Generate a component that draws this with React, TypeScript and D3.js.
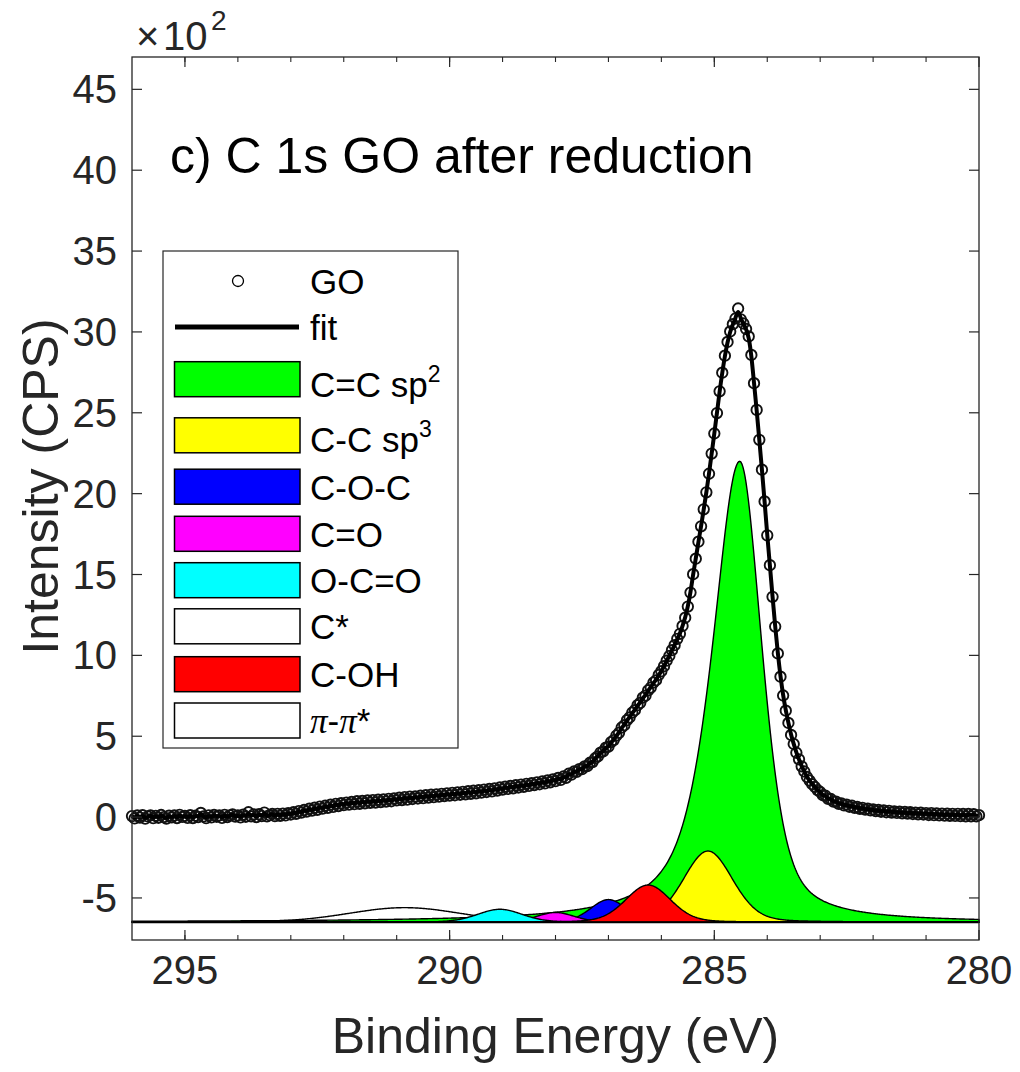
import React from "react";
import * as d3 from "d3";

// ---------- data (intensity in units of 10^2 CPS) ----------
const energyStart = 296; // eV, first data point
const energyStep = 0.05; // eV, spacing of the measured points (descending)
const goValues = [
  0.06, -0.08, 0.1, -0.03, 0.12, -0.1, 0.04, 0.11, -0.07, 0.08, -0.04, 0.13, 0.0, -0.09, 0.09, -0.02, 0.1, -0.06, 0.14, 0.01,
  0.07, -0.05, 0.12, -0.06, 0.09, 0.0, 0.26, 0.04, -0.07, 0.11, -0.02, 0.13, 0.02, 0.1, -0.05, 0.14, 0.0, 0.11, 0.16, 0.03,
  0.1, -0.02, 0.15, 0.02, 0.3, 0.05, 0.17, 0.0, 0.18, 0.06, 0.28, 0.04, 0.12, 0.19, 0.06, 0.2, 0.08, 0.22, 0.1, 0.24,
  0.16, 0.3, 0.2, 0.37, 0.28, 0.44, 0.34, 0.52, 0.4, 0.58, 0.45, 0.65, 0.52, 0.7, 0.57, 0.77, 0.63, 0.82, 0.68, 0.86,
  0.74, 0.9, 0.77, 0.94, 0.8, 0.98, 0.82, 1.0, 0.85, 1.03, 0.88, 1.05, 0.9, 1.08, 0.93, 1.1, 0.96, 1.13, 0.98, 1.15,
  1.03, 1.2, 1.05, 1.24, 1.08, 1.27, 1.12, 1.28, 1.15, 1.32, 1.17, 1.35, 1.2, 1.38, 1.23, 1.41, 1.26, 1.44, 1.3, 1.47,
  1.33, 1.5, 1.35, 1.53, 1.38, 1.56, 1.41, 1.6, 1.44, 1.63, 1.47, 1.66, 1.51, 1.7, 1.55, 1.74, 1.59, 1.78, 1.64, 1.83,
  1.7, 1.88, 1.74, 1.93, 1.78, 1.97, 1.83, 2.01, 1.87, 2.06, 1.93, 2.1, 1.98, 2.15, 2.03, 2.2, 2.08, 2.27, 2.15, 2.33,
  2.22, 2.42, 2.3, 2.51, 2.43, 2.68, 2.62, 2.82, 2.8, 2.97, 2.96, 3.14, 3.15, 3.36, 3.4, 3.64, 3.75, 3.99, 4.06, 4.29,
  4.35, 4.64, 4.76, 5.04, 5.21, 5.54, 5.68, 5.99, 6.16, 6.46, 6.61, 6.92, 7.06, 7.39, 7.51, 7.84, 8.01, 8.32, 8.46, 8.79,
  9.02, 9.33, 9.67, 9.96, 10.32, 10.63, 11.02, 11.33, 11.82, 12.33, 13.02, 13.88, 15.02, 15.98, 17.03, 17.98, 19.03, 20.08, 21.23, 22.48,
  23.72, 24.98, 26.33, 27.48, 28.53, 29.38, 30.03, 30.48, 30.83, 31.45, 30.78, 30.52, 30.18, 29.72, 28.58, 26.83, 25.18, 23.33, 21.48, 19.52,
  17.42, 15.58, 13.62, 11.78, 10.12, 8.68, 7.52, 6.58, 5.82, 5.08, 4.52, 3.98, 3.57, 3.14, 2.82, 2.48, 2.26, 2.03, 1.86, 1.67,
  1.55, 1.35, 1.32, 1.13, 1.12, 0.96, 0.96, 0.82, 0.85, 0.72, 0.77, 0.64, 0.7, 0.57, 0.63, 0.51, 0.57, 0.46, 0.52, 0.41,
  0.47, 0.37, 0.44, 0.33, 0.42, 0.3, 0.39, 0.28, 0.35, 0.26, 0.33, 0.23, 0.32, 0.21, 0.3, 0.19, 0.28, 0.17, 0.27, 0.16,
  0.25, 0.13, 0.25, 0.12, 0.23, 0.1, 0.22, 0.09, 0.21, 0.08, 0.2, 0.07, 0.2, 0.06, 0.19, 0.05, 0.19, 0.05, 0.18, 0.04,
  0.12,
];

// fitted components (drawn offset on a common baseline)
const componentBaseline = -6.5;
const compNames = ["C=C sp2", "C-C sp3", "C-O-C", "C=O", "O-C=O", "C*", "C-OH", "π-π*"];
const compColors = ["#00ff00", "#ffff00", "#0000ff", "#ff00ff", "#00ffff", "#ffffff", "#ff0000", "#ffffff"];
const compCenters = [284.52, 285.12, 287.0, 288.0, 289.05, 289.6, 286.25, 290.85];
const compHeights = [28.5, 4.4, 1.4, 0.6, 0.8, 0.25, 2.3, 0.9];
const compHwhmHigh = [0.62, 0.55, 0.4, 0.42, 0.5, 0.45, 0.5, 1.25]; // high-BE side
const compHwhmLow = [0.5, 0.55, 0.4, 0.42, 0.5, 0.45, 0.5, 1.25]; // low-BE side
const compLorHigh = [0.7, 0.2, 0.2, 0.2, 0.2, 0.2, 0.2, 0.1];
const compLorLow = [0.5, 0.2, 0.2, 0.2, 0.2, 0.2, 0.2, 0.1];
const drawOrder = [7, 5, 0, 1, 2, 3, 4, 6];

const xDomain = [296, 280];
const yDomain = [-7.6, 47];
const xMajorTicks = [295, 290, 285, 280];
const xMinorTicks = [295, 294, 293, 292, 291, 290, 289, 288, 287, 286, 285, 284, 283, 282, 281];
const yTicks = [-5, 0, 5, 10, 15, 20, 25, 30, 35, 40, 45];

const FONT = "'Liberation Sans', Arial, Helvetica, sans-serif";
const AX = "#262626";

function peak(i: number, e: number) {
  const d = e - compCenters[i];
  const w = d >= 0 ? compHwhmHigh[i] : compHwhmLow[i];
  const m = d >= 0 ? compLorHigh[i] : compLorLow[i];
  const u = (d / w) * (d / w);
  return compHeights[i] * (m / (1 + u) + (1 - m) * Math.exp(-Math.LN2 * u));
}

export default function App() {
  const W = 1020,
    H = 1072;
  const L = 132,
    R = 979,
    T = 57,
    B = 940;
  const x = d3.scaleLinear().domain(xDomain).range([L, R]);
  const y = d3.scaleLinear().domain(yDomain).range([B, T]);

  const goPoints = goValues.map((v, i) => ({ e: energyStart - i * energyStep, v }));
  const grid = d3.range(296, 279.999, -0.02);

  const area = (i: number) =>
    d3
      .area<number>()
      .x((e) => x(e))
      .y0(y(componentBaseline))
      .y1((e) => y(componentBaseline + peak(i, e)))(grid) || "";

  const fitPath =
    d3
      .line<{ e: number; v: number }>()
      .x((d) => x(d.e))
      .y((d) => y(d.v))
      .curve(d3.curveBasis)(goPoints) || "";

  const legendPatchY = [379.2, 435.3, 486.7, 533.8, 580.2, 626.3, 674.2, 720.5];
  const legendTextY = [397, 452, 500, 547, 593, 639, 687, 733];

  const serif = "'Liberation Serif', 'Times New Roman', serif";
  const renderLabel = (i: number) => {
    const n = compNames[i];
    if (n === "C=C sp2")
      return (
        <>
          C=C sp
          <tspan dy={-15} fontSize={23}>
            2
          </tspan>
        </>
      );
    if (n === "C-C sp3")
      return (
        <>
          C-C sp
          <tspan dy={-15} fontSize={23}>
            3
          </tspan>
        </>
      );
    if (n === "π-π*")
      return (
        <>
          <tspan fontFamily={serif} fontStyle="italic">
            π
          </tspan>
          -
          <tspan fontFamily={serif} fontStyle="italic">
            π
          </tspan>
          *
        </>
      );
    return n;
  };

  return (
    <svg
      width={W}
      height={H}
      viewBox={`0 0 ${W} ${H}`}
      style={{ position: "absolute", left: 0, top: 0, background: "#fff" }}
      fontFamily={FONT}
    >
      <rect x={0} y={0} width={W} height={H} fill="#fff" />

      {/* components */}
      {drawOrder.map((i) => (
        <path key={i} d={area(i)} fill={compColors[i]} stroke="#000" strokeWidth={1.4} strokeLinejoin="round" />
      ))}
      <line x1={L} x2={R} y1={y(componentBaseline)} y2={y(componentBaseline)} stroke="#000" strokeWidth={2} />

      {/* data */}
      {goPoints.map((d, i) => (
        <circle key={i} cx={x(d.e)} cy={y(d.v)} r={5.2} fill="none" stroke="#111" strokeWidth={1.9} />
      ))}
      <path d={fitPath} fill="none" stroke="#000" strokeWidth={4} strokeLinejoin="round" />

      {/* axes box */}
      <rect x={L} y={T} width={R - L} height={B - T} fill="none" stroke={AX} strokeWidth={1.3} />
      {xMajorTicks.map((t) => (
        <g key={"xm" + t}>
          <line x1={x(t)} x2={x(t)} y1={B} y2={B - 10} stroke={AX} strokeWidth={1.2} />
          <line x1={x(t)} x2={x(t)} y1={T} y2={T + 10} stroke={AX} strokeWidth={1.2} />
          <text x={x(t)} y={984} textAnchor="middle" fontSize={40} fill={AX}>
            {t}
          </text>
        </g>
      ))}
      {xMinorTicks.map((t) => (
        <g key={"xn" + t}>
          <line x1={x(t)} x2={x(t)} y1={B} y2={B - 5} stroke={AX} strokeWidth={1.1} />
          <line x1={x(t)} x2={x(t)} y1={T} y2={T + 5} stroke={AX} strokeWidth={1.1} />
        </g>
      ))}
      {yTicks.map((t) => (
        <g key={"y" + t}>
          <line x1={L} x2={L + 10} y1={y(t)} y2={y(t)} stroke={AX} strokeWidth={1.2} />
          <line x1={R} x2={R - 10} y1={y(t)} y2={y(t)} stroke={AX} strokeWidth={1.2} />
          <text x={117} y={y(t) + 14} textAnchor="end" fontSize={40} fill={AX}>
            {t}
          </text>
        </g>
      ))}

      {/* exponent */}
      <text x={136} y={50} fontSize={40} fill={AX}>
        ×
      </text>
      <text x={163} y={50} fontSize={40} fill={AX}>
        10
      </text>
      <text x={211} y={30} fontSize={28} fill={AX}>
        2
      </text>

      {/* axis labels */}
      <text x={(L + R) / 2} y={1053} textAnchor="middle" fontSize={50} fill={AX}>
        Binding Energy (eV)
      </text>
      <text transform={`translate(58, ${(T + B) / 2 - 12}) rotate(-90)`} textAnchor="middle" fontSize={50} fill={AX}>
        Intensity (CPS)
      </text>

      {/* title */}
      <text x={170} y={173} fontSize={50} fill="#000">
        c) C 1s GO after reduction
      </text>

      {/* legend */}
      <rect x={163} y={251} width={295} height={497} fill="#fff" stroke={AX} strokeWidth={1.2} />
      <circle cx={238} cy={281} r={5.5} fill="none" stroke="#000" strokeWidth={1.3} />
      <text x={310} y={294} fontSize={35} fill="#000">
        GO
      </text>
      <line x1={175} x2={299} y1={327} y2={327} stroke="#000" strokeWidth={5} />
      <text x={310} y={340} fontSize={35} fill="#000">
        fit
      </text>
      {compNames.map((n, i) => (
        <g key={n}>
          <rect
            x={174.5}
            y={legendPatchY[i] - 17.5}
            width={125.5}
            height={35}
            fill={compColors[i]}
            stroke="#000"
            strokeWidth={1.5}
          />
          <text x={310} y={legendTextY[i]} fontSize={35} fill="#000">
            {renderLabel(i)}
          </text>
        </g>
      ))}
    </svg>
  );
}
